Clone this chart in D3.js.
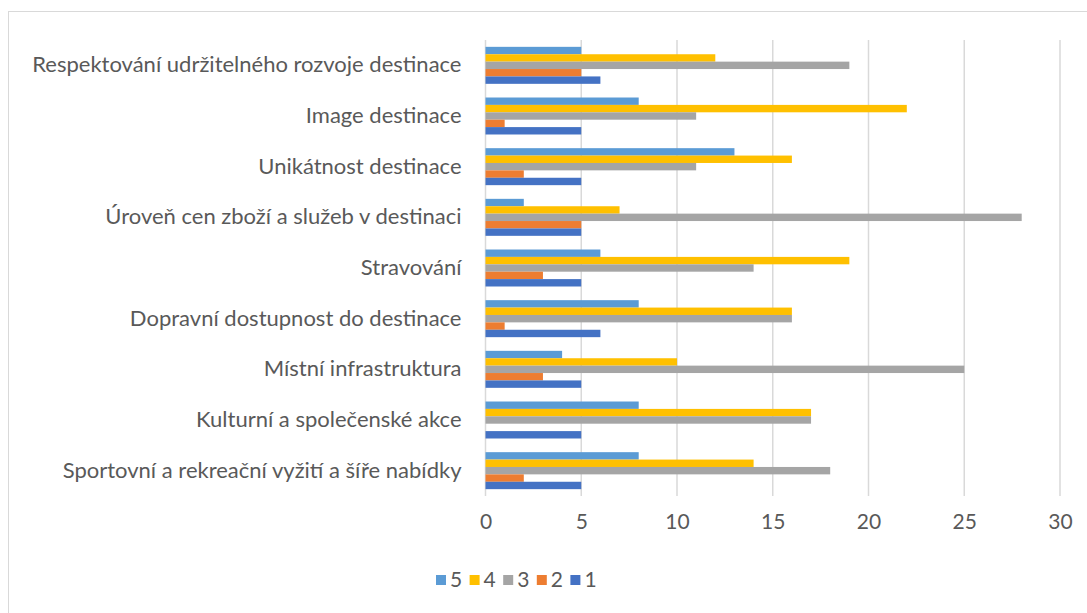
<!DOCTYPE html>
<html>
<head>
<meta charset="utf-8">
<script src="https://cdn.jsdelivr.net/npm/d3@7"></script>
<style>
  body { margin: 0; background: #fff; }
  text { font-family: Lato, "Open Sans", sans-serif; fill: #595959; }
</style>
</head>
<body>
<div id="chart"></div>
<script>
// categories, listed bottom to top as in the original sheet
const categories = [
  "Sportovní a rekreační vyžití a šíře nabídky",
  "Kulturní a společenské akce",
  "Místní infrastruktura",
  "Dopravní dostupnost do destinace",
  "Stravování",
  "Úroveň cen zboží a služeb v destinaci",
  "Unikátnost destinace",
  "Image destinace",
  "Respektování udržitelného rozvoje destinace"
];
const seriesNames = ["5", "4", "3", "2", "1"];
const seriesColors = ["#5b9bd5", "#ffc000", "#a5a5a5", "#ed7d31", "#4472c4"];
const s5 = [8, 8, 4, 8, 6, 2, 13, 8, 5];
const s4 = [14, 17, 10, 16, 19, 7, 16, 22, 12];
const s3 = [18, 17, 25, 16, 14, 28, 11, 11, 19];
const s2 = [2, 0, 3, 1, 3, 5, 2, 1, 5];
const s1 = [5, 5, 5, 6, 5, 5, 5, 5, 6];
const xTicks = [0, 5, 10, 15, 20, 25, 30];

const seriesValues = [s5, s4, s3, s2, s1];
const W = 1087, H = 613;
const margin = { top: 40, right: 27, bottom: 117, left: 485.5 };
const width = W - margin.left - margin.right,
      height = H - margin.top - margin.bottom;

let svg = d3.select("#chart").append("svg")
  .attr("width", W)
  .attr("height", H);

// chart frame
svg.append("rect")
  .attr("x", 8.5).attr("y", 11.5)
  .attr("width", W + 10).attr("height", H + 10)
  .attr("fill", "none")
  .attr("stroke", "#d9d9d9")
  .attr("stroke-width", 1);

let g = svg.append("g")
  .attr("transform", "translate(" + margin.left + "," + margin.top + ")");

let x = d3.scaleLinear().domain([0, 30]).range([0, width]);
let y = d3.scaleBand().domain(categories.slice().reverse()).range([0, height]).paddingInner(0.27).paddingOuter(0.135);
let ySub = d3.scaleBand().domain(seriesNames).range([0, y.bandwidth()]);

// gridlines
g.append("g")
  .selectAll("line")
  .data(xTicks)
  .join("line")
  .attr("x1", d => x(d)).attr("x2", d => x(d))
  .attr("y1", 0).attr("y2", height)
  .attr("stroke", "#d9d9d9")
  .attr("stroke-width", 1.5);

// bars
seriesNames.forEach(function (name, si) {
  g.append("g")
    .attr("fill", seriesColors[si])
    .selectAll("rect")
    .data(categories.map((c, i) => ({ cat: c, v: seriesValues[si][i] })))
    .join("rect")
    .attr("x", x(0))
    .attr("y", d => y(d.cat) + ySub(name))
    .attr("width", d => x(d.v) - x(0))
    .attr("height", ySub.bandwidth());
});

// x axis labels
let xAxis = d3.axisBottom(x).tickValues(xTicks).tickSize(0).tickPadding(18);
let xg = g.append("g")
  .attr("transform", "translate(0," + height + ")")
  .call(xAxis);
xg.select(".domain").remove();
xg.selectAll("text")
  .style("font-size", "21px")
  .style("font-family", null)
  .attr("fill", "#595959");

// y axis labels
let yAxis = d3.axisLeft(y).tickSize(0).tickPadding(24);
let yg = g.append("g").call(yAxis);
yg.select(".domain").remove();
yg.selectAll("text")
  .style("font-size", "22px")
  .style("font-family", null)
  .attr("fill", "#595959");

// legend
let legend = svg.append("g").attr("transform", "translate(436,580)");
seriesNames.forEach(function (name, i) {
  let item = legend.append("g").attr("transform", "translate(" + (i * 33.6) + ",0)");
  item.append("rect")
    .attr("x", 0).attr("y", -5)
    .attr("width", 10).attr("height", 10)
    .attr("fill", seriesColors[i]);
  item.append("text")
    .attr("x", 14).attr("y", 0)
    .attr("dy", "0.35em")
    .style("font-size", "21px")
    .text(name);
});
</script>
</body>
</html>
